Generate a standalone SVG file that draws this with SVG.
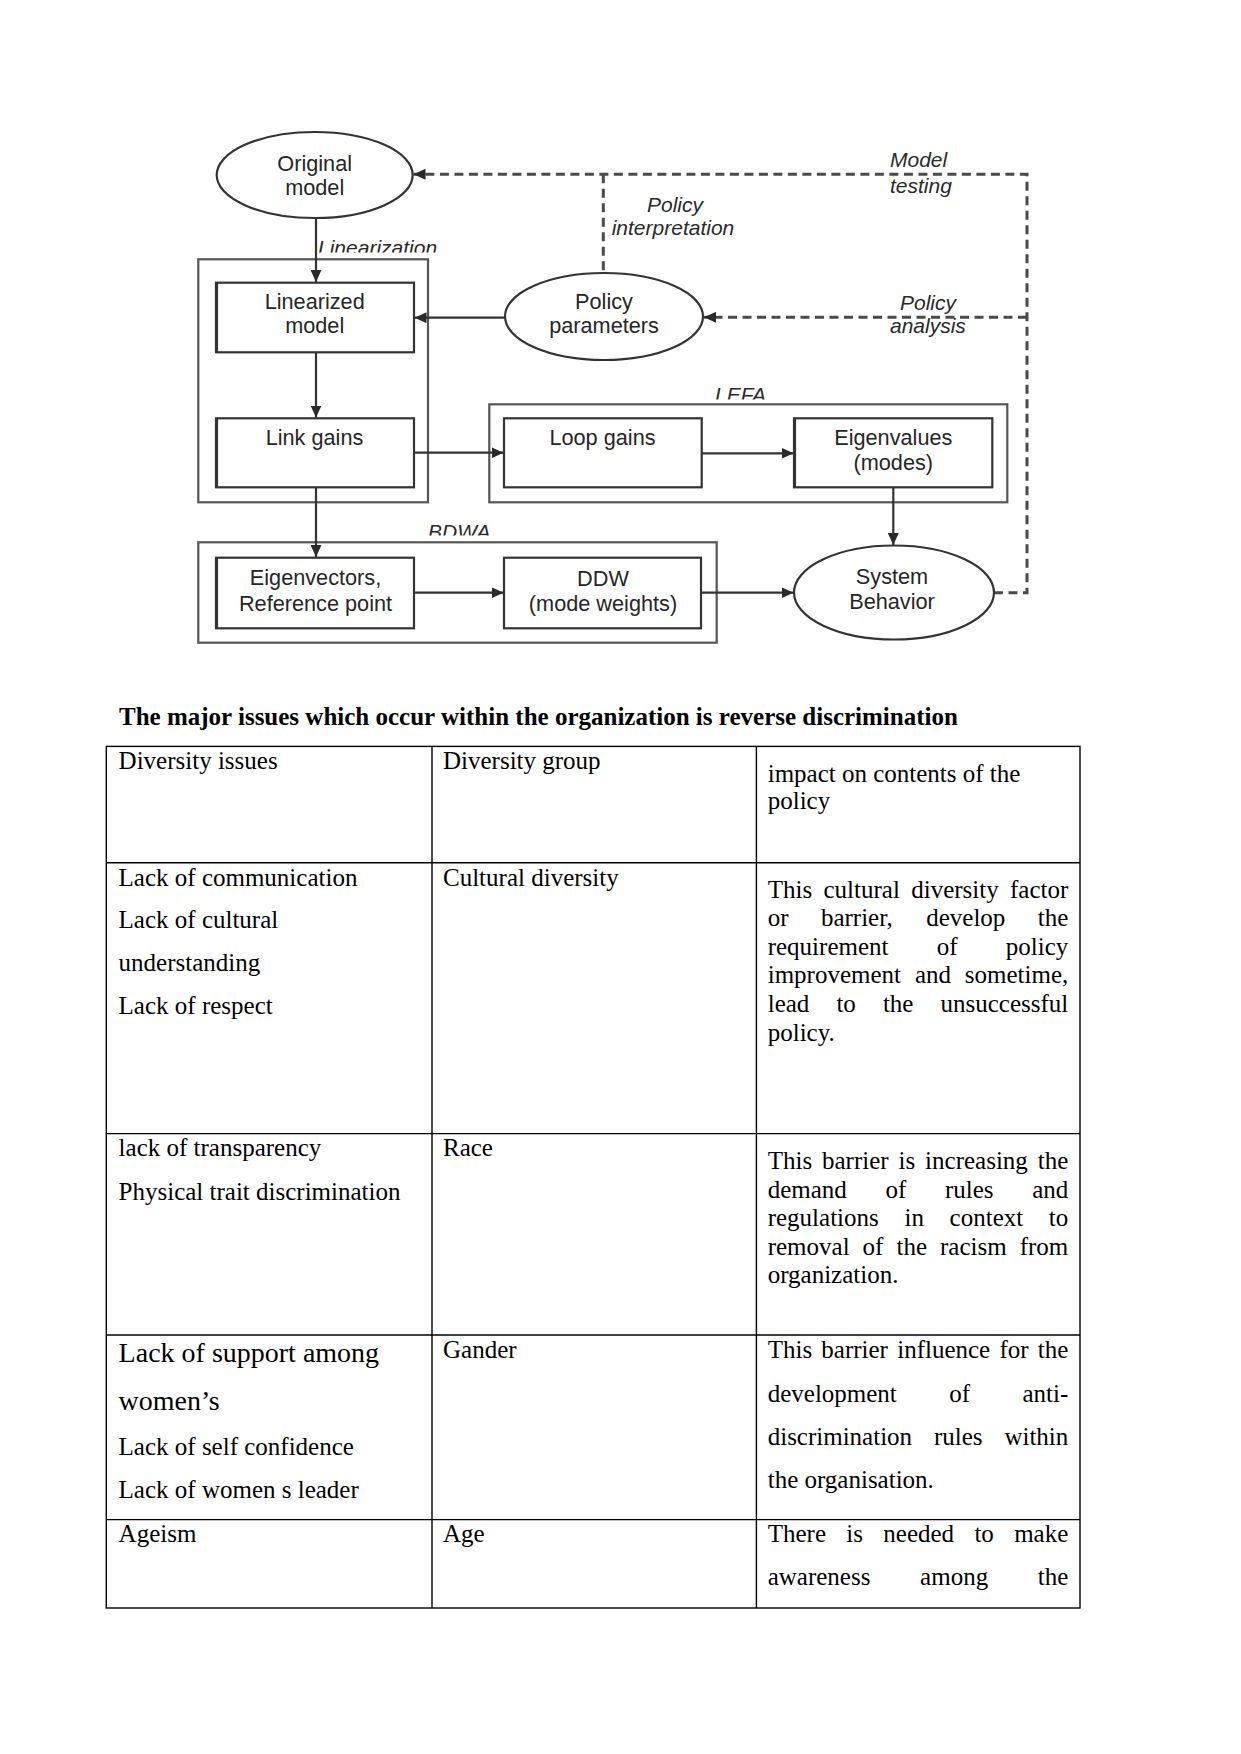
<svg xmlns="http://www.w3.org/2000/svg" width="1241" height="1754" viewBox="0 0 1241 1754">
<style>
.bx{fill:none;stroke:#333;stroke-width:2.2}
.ob{fill:none;stroke:#555;stroke-width:2.2}
.el{fill:#fff;stroke:#333;stroke-width:2.2}
.nt{font-family:"Liberation Sans",Arial,sans-serif;font-size:21.7px;fill:#262626;text-anchor:middle}
.lb{font-family:"Liberation Sans",Arial,sans-serif;font-size:21px;fill:#2a2a2a;font-style:italic}
.ln{fill:none;stroke:#333;stroke-width:2.2}
.dl{fill:none;stroke:#4a4a4a;stroke-width:3;stroke-dasharray:9 5.5}
.tb{fill:none;stroke:#000;stroke-width:1.4}
.tt{font-family:"Liberation Serif","Times New Roman",serif;font-size:25px;fill:#000}
.te{text-anchor:end}
.big{font-size:28px}
.ti{font-family:"Liberation Serif","Times New Roman",serif;font-size:25px;font-weight:bold;fill:#000}
</style>
<defs>
<marker id="ah" markerWidth="13" markerHeight="11" refX="12" refY="5.5" orient="auto" markerUnits="userSpaceOnUse"><path d="M0,0 L12,5.5 L0,11 z" fill="#2a2a2a"/></marker>
<clipPath id="cLin"><rect x="300" y="225" width="160" height="27.5"/></clipPath>
<clipPath id="cLefa"><rect x="700" y="375" width="100" height="24.5"/></clipPath>
<clipPath id="cBdwa"><rect x="415" y="510" width="100" height="25.5"/></clipPath>
</defs>
<rect width="1241" height="1754" fill="#fff"/>

<g id="groups">
<rect class="ob" x="198.3" y="259.3" width="229.7" height="243"/>
<rect class="ob" x="489.3" y="404.3" width="518" height="98"/>
<rect class="ob" x="198.3" y="542.3" width="518.4" height="100.4"/>
<text class="lb" x="318" y="254.5" clip-path="url(#cLin)">Linearization</text>
<text class="lb" x="715" y="401.7" clip-path="url(#cLefa)">LEFA</text>
<text class="lb" x="428" y="539" clip-path="url(#cBdwa)">BDWA</text>
</g>

<g id="connectors">
<path class="ln" d="M316,218 V282" marker-end="url(#ah)"/>
<path class="ln" d="M316,352.3 V417.5" marker-end="url(#ah)"/>
<path class="ln" d="M316,487.3 V557" marker-end="url(#ah)"/>
<path class="ln" d="M414,452.7 H503.5" marker-end="url(#ah)"/>
<path class="ln" d="M701.7,453.3 H793.5" marker-end="url(#ah)"/>
<path class="ln" d="M893.3,487.3 V545" marker-end="url(#ah)"/>
<path class="ln" d="M414,592.7 H503.5" marker-end="url(#ah)"/>
<path class="ln" d="M701,592.7 H793.5" marker-end="url(#ah)"/>
<path class="ln" d="M505,317.7 H414.5" marker-end="url(#ah)"/>
<path class="dl" d="M994,592.7 H1027 V174.3 H413.5" marker-end="url(#ah)"/>
<path class="dl" d="M1027,317.3 H704" marker-end="url(#ah)"/>
<path class="dl" d="M603.3,174.3 V273"/>
<text class="lb" x="890" y="167.3">Model</text>
<text class="lb" x="890" y="192.7">testing</text>
<text class="lb" x="675" y="211.7" text-anchor="middle">Policy</text>
<text class="lb" x="611.7" y="235">interpretation</text>
<text class="lb" x="900" y="310">Policy</text>
<text class="lb" x="890" y="333.3">analysis</text>
</g>

<g id="original-model">
<ellipse class="el" cx="314.7" cy="175" rx="98" ry="43"/>
<text class="nt" x="314.7" y="170.7">Original</text>
<text class="nt" x="314.7" y="195">model</text>
</g>
<g id="policy-parameters">
<ellipse class="el" cx="604" cy="316.5" rx="99" ry="43.5"/>
<text class="nt" x="604" y="309">Policy</text>
<text class="nt" x="604" y="333.3">parameters</text>
</g>
<g id="linearized-model">
<rect class="bx" x="216" y="282.7" width="198" height="69.6"/>
<path class="ln" d="M217,282.7 V352.3" stroke-width="3"/>
<text class="nt" x="314.7" y="309.3">Linearized</text>
<text class="nt" x="314.7" y="333.3">model</text>
</g>
<g id="link-gains">
<rect class="bx" x="216" y="418.3" width="198" height="69"/>
<path class="ln" d="M217,418.3 V487.3" stroke-width="3"/>
<text class="nt" x="314.5" y="445">Link gains</text>
</g>
<g id="loop-gains">
<rect class="bx" x="504" y="418.3" width="197.7" height="69"/>
<text class="nt" x="602.5" y="445">Loop gains</text>
</g>
<g id="eigenvalues">
<rect class="bx" x="794" y="418.3" width="198.3" height="69"/>
<path class="ln" d="M795,418.3 V487.3" stroke-width="3"/>
<text class="nt" x="893.3" y="445">Eigenvalues</text>
<text class="nt" x="893.3" y="469.5">(modes)</text>
</g>
<g id="eigenvectors">
<rect class="bx" x="216" y="557.7" width="198" height="70.6"/>
<path class="ln" d="M217,557.7 V628.3" stroke-width="3"/>
<text class="nt" x="315.5" y="585">Eigenvectors,</text>
<text class="nt" x="315.5" y="610.7">Reference point</text>
</g>
<g id="ddw">
<rect class="bx" x="504" y="557.7" width="197" height="70.6"/>
<text class="nt" x="603" y="586">DDW</text>
<text class="nt" x="603" y="610.7">(mode weights)</text>
</g>
<g id="system-behavior">
<ellipse class="el" cx="894" cy="592.5" rx="100" ry="47"/>
<text class="nt" x="892" y="584.3">System</text>
<text class="nt" x="892" y="609.3">Behavior</text>
</g>

<g id="table">
<text class="ti" x="119" y="725">The major issues which occur within the organization is reverse discrimination</text>
<rect class="tb" x="106.3" y="746.4" width="973.7" height="861.6"/>
<path class="tb" d="M432,746.4 V1608 M756.4,746.4 V1608 M106.3,862.7 H1080 M106.3,1133.6 H1080 M106.3,1335 H1080 M106.3,1519.6 H1080"/>

<text class="tt" x="118.6" y="769">Diversity issues</text>
<text class="tt" x="443" y="769">Diversity group</text>
<text class="tt" x="767.7" y="781.5">impact on contents of the</text>
<text class="tt" x="767.7" y="809">policy</text>

<text class="tt" x="118.6" y="885.5">Lack of communication</text>
<text class="tt" x="118.6" y="928.3">Lack of cultural</text>
<text class="tt" x="118.6" y="971">understanding</text>
<text class="tt" x="118.6" y="1013.8">Lack of respect</text>
<text class="tt" x="443" y="885.5">Cultural diversity</text>
<text class="tt" x="767.7" y="897.5">This</text><text class="tt" x="823.5" y="897.5">cultural</text><text class="tt" x="911.2" y="897.5">diversity</text><text class="tt te" x="1068.3" y="897.5">factor</text>
<text class="tt" x="767.7" y="926">or</text><text class="tt" x="820.9" y="926">barrier,</text><text class="tt" x="926.2" y="926">develop</text><text class="tt te" x="1068.3" y="926">the</text>
<text class="tt" x="767.7" y="954.7">requirement</text><text class="tt" x="936.7" y="954.7">of</text><text class="tt te" x="1068.3" y="954.7">policy</text>
<text class="tt" x="767.7" y="983.3">improvement</text><text class="tt" x="914.9" y="983.3">and</text><text class="tt te" x="1068.3" y="983.3">sometime,</text>
<text class="tt" x="767.7" y="1012">lead</text><text class="tt" x="836.4" y="1012">to</text><text class="tt" x="882.9" y="1012">the</text><text class="tt te" x="1068.3" y="1012">unsuccessful</text>
<text class="tt" x="767.7" y="1040.5">policy.</text>

<text class="tt" x="118.6" y="1155.5">lack of transparency</text>
<text class="tt" x="118.6" y="1199.5">Physical trait discrimination</text>
<text class="tt" x="443" y="1155.5">Race</text>
<text class="tt" x="767.7" y="1169.3">This</text><text class="tt" x="822" y="1169.3">barrier</text><text class="tt" x="898.6" y="1169.3">is</text><text class="tt" x="925.1" y="1169.3">increasing</text><text class="tt te" x="1068.3" y="1169.3">the</text>
<text class="tt" x="767.7" y="1197.5">demand</text><text class="tt" x="885.5" y="1197.5">of</text><text class="tt" x="945" y="1197.5">rules</text><text class="tt te" x="1068.3" y="1197.5">and</text>
<text class="tt" x="767.7" y="1226">regulations</text><text class="tt" x="904.5" y="1226">in</text><text class="tt" x="949.6" y="1226">context</text><text class="tt te" x="1068.3" y="1226">to</text>
<text class="tt" x="767.7" y="1254.7">removal</text><text class="tt" x="862.6" y="1254.7">of</text><text class="tt" x="896.5" y="1254.7">the</text><text class="tt" x="940" y="1254.7">racism</text><text class="tt te" x="1068.3" y="1254.7">from</text>
<text class="tt" x="767.7" y="1283.3">organization.</text>

<text class="tt big" x="118.6" y="1362">Lack of support among</text>
<text class="tt big" x="118.6" y="1410">women’s</text>
<text class="tt" x="118.6" y="1455">Lack of self confidence</text>
<text class="tt" x="118.6" y="1498.3">Lack of women s leader</text>
<text class="tt" x="443" y="1358.3">Gander</text>
<text class="tt" x="767.7" y="1358.3">This</text><text class="tt" x="821.3" y="1358.3">barrier</text><text class="tt" x="897.2" y="1358.3">influence</text><text class="tt" x="999.4" y="1358.3">for</text><text class="tt te" x="1068.3" y="1358.3">the</text>
<text class="tt" x="767.7" y="1401.7">development</text><text class="tt" x="949.2" y="1401.7">of</text><text class="tt te" x="1068.3" y="1401.7">anti-</text>
<text class="tt" x="767.7" y="1445">discrimination</text><text class="tt" x="934" y="1445">rules</text><text class="tt te" x="1068.3" y="1445">within</text>
<text class="tt" x="767.7" y="1488.3">the organisation.</text>

<text class="tt" x="118.6" y="1541.7">Ageism</text>
<text class="tt" x="443" y="1541.7">Age</text>
<text class="tt" x="767.7" y="1541.7">There</text><text class="tt" x="846.3" y="1541.7">is</text><text class="tt" x="883.3" y="1541.7">needed</text><text class="tt" x="974.4" y="1541.7">to</text><text class="tt te" x="1068.3" y="1541.7">make</text>
<text class="tt" x="767.7" y="1585">awareness</text><text class="tt" x="920.1" y="1585">among</text><text class="tt te" x="1068.3" y="1585">the</text>
</g>
</svg>
